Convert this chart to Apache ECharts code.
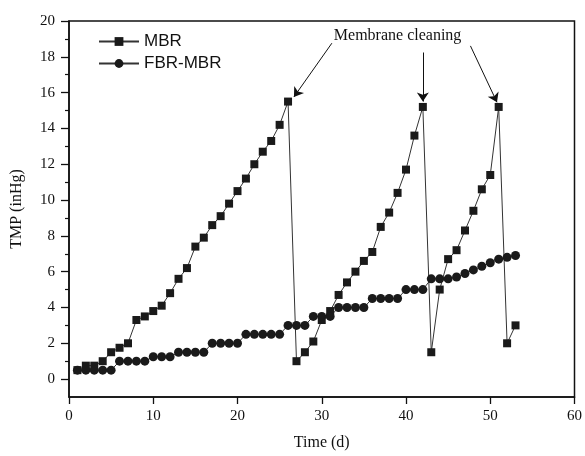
<!DOCTYPE html>
<html>
<head>
<meta charset="utf-8">
<script src="https://cdn.jsdelivr.net/npm/echarts@6/dist/echarts.min.js"></script>
<style>
  html, body { margin: 0; padding: 0; background: #fff; }
  #app { width: 585px; height: 456px; }
</style>
</head>
<body>
<div id="app"></div>
<script>
const days = [1, 2, 3, 4, 5, 6, 7, 8, 9, 10, 11, 12, 13, 14, 15, 16, 17, 18, 19, 20,
  21, 22, 23, 24, 25, 26, 27, 28, 29, 30, 31, 32, 33, 34, 35, 36, 37, 38, 39, 40,
  41, 42, 43, 44, 45, 46, 47, 48, 49, 50, 51, 52, 53];
const mbr = [0.5, 0.75, 0.75, 1.0, 1.5, 1.75, 2.0, 3.3, 3.5, 3.8, 4.1, 4.8, 5.6, 6.2, 7.4, 7.9, 8.6, 9.1, 9.8, 10.5,
  11.2, 12.0, 12.7, 13.3, 14.2, 15.5, 1.0, 1.5, 2.1, 3.3, 3.8, 4.7, 5.4, 6.0, 6.6, 7.1, 8.5, 9.3, 10.4, 11.7,
  13.6, 15.2, 1.5, 5.0, 6.7, 7.2, 8.3, 9.4, 10.6, 11.4, 15.2, 2.0, 3.0];
const fbrMbr = [0.5, 0.5, 0.5, 0.5, 0.5, 1.0, 1.0, 1.0, 1.0, 1.25, 1.25, 1.25, 1.5, 1.5, 1.5, 1.5, 2.0, 2.0, 2.0, 2.0,
  2.5, 2.5, 2.5, 2.5, 2.5, 3.0, 3.0, 3.0, 3.5, 3.5, 3.5, 4.0, 4.0, 4.0, 4.0, 4.5, 4.5, 4.5, 4.5, 5.0,
  5.0, 5.0, 5.6, 5.6, 5.6, 5.7, 5.9, 6.1, 6.3, 6.5, 6.7, 6.8, 6.9];

const xTicks = [0, 10, 20, 30, 40, 50, 60];
const yTicks = [0, 2, 4, 6, 8, 10, 12, 14, 16, 18, 20];
const yMinorTicks = [1, 3, 5, 7, 9, 11, 13, 15, 17, 19];

// annotation: text and the three arrows (start -> end, in data units)
const noteText = "Membrane cleaning";
const noteAt = [39.0, 19.2];
const cleaningArrows = [
  [[31.2, 18.76], [26.7, 15.76]],
  [[42.0, 18.24], [42.0, 15.5]],
  [[47.65, 18.61], [50.8, 15.46]]
];

const serif = "Liberation Serif";
const sans = "Liberation Sans";
const ink = "#111";

const dom = document.getElementById("app");
const myChart = echarts.init(dom, null, { renderer: "canvas" });

myChart.setOption({
  animation: false,
  grid: {
    left: 69,
    right: 10,
    top: 21,
    bottom: 57.5,
    show: true,
    borderColor: ink,
    borderWidth: 1.5
  },
  legend: {
    orient: "vertical",
    left: 98,
    top: 33,
    padding: 0,
    itemWidth: 40,
    itemHeight: 11,
    itemGap: 5,
    textStyle: { fontFamily: sans, fontSize: 17, color: ink, lineHeight: 17 },
    data: ["MBR", "FBR-MBR"]
  },
  xAxis: {
    type: "value",
    min: xTicks[0],
    max: xTicks[xTicks.length - 1],
    interval: 10,
    name: "Time (d)",
    nameLocation: "middle",
    nameGap: 38,
    nameTextStyle: { fontFamily: serif, fontSize: 16, color: ink },
    axisLine: { onZero: false, lineStyle: { color: ink, width: 1.5 } },
    axisTick: { inside: false, length: 7, lineStyle: { color: ink, width: 1.3 } },
    axisLabel: { margin: 12, fontFamily: serif, fontSize: 15, color: ink },
    splitLine: { show: false }
  },
  yAxis: [
    {
      type: "value",
      min: -1,
      max: 20,
      name: "TMP (inHg)",
      nameLocation: "middle",
      nameGap: 44,
      nameTextStyle: { fontFamily: serif, fontSize: 16, color: ink },
      axisLine: { onZero: false, lineStyle: { color: ink, width: 1.5 } },
      axisTick: { customValues: yTicks, length: 8, lineStyle: { color: ink, width: 1.3 } },
      axisLabel: { customValues: yTicks, margin: 14, fontFamily: serif, fontSize: 15, color: ink },
      splitLine: { show: false }
    },
    {
      type: "value",
      min: -1,
      max: 20,
      position: "left",
      axisLine: { show: false, onZero: false },
      axisTick: { show: true, customValues: yMinorTicks, length: 4, lineStyle: { color: ink, width: 1.2 } },
      axisLabel: { show: false },
      splitLine: { show: false }
    }
  ],
  series: [
    {
      name: "MBR",
      type: "line",
      yAxisIndex: 0,
      data: days.map((d, i) => [d, mbr[i]]),
      symbol: "rect",
      symbolSize: 8,
      itemStyle: { color: "#1a1a1a" },
      lineStyle: { color: "#333", width: 1 },
      markLine: {
        silent: true,
        symbol: ["none", "arrow"],
        symbolSize: 9,
        label: { show: false },
        lineStyle: { color: ink, width: 1, type: "solid" },
        data: cleaningArrows.map(a => [{ coord: a[0] }, { coord: a[1] }])
      },
      markPoint: {
        silent: true,
        symbol: "rect",
        symbolSize: 0,
        label: {
          show: true,
          position: "inside",
          formatter: noteText,
          fontFamily: serif,
          fontSize: 16,
          color: ink
        },
        data: [{ coord: noteAt }]
      }
    },
    {
      name: "FBR-MBR",
      type: "line",
      yAxisIndex: 0,
      data: days.map((d, i) => [d, fbrMbr[i]]),
      symbol: "circle",
      symbolSize: 9,
      itemStyle: { color: "#1a1a1a" },
      lineStyle: { color: "#333", width: 1 }
    }
  ]
});
</script>
</body>
</html>
